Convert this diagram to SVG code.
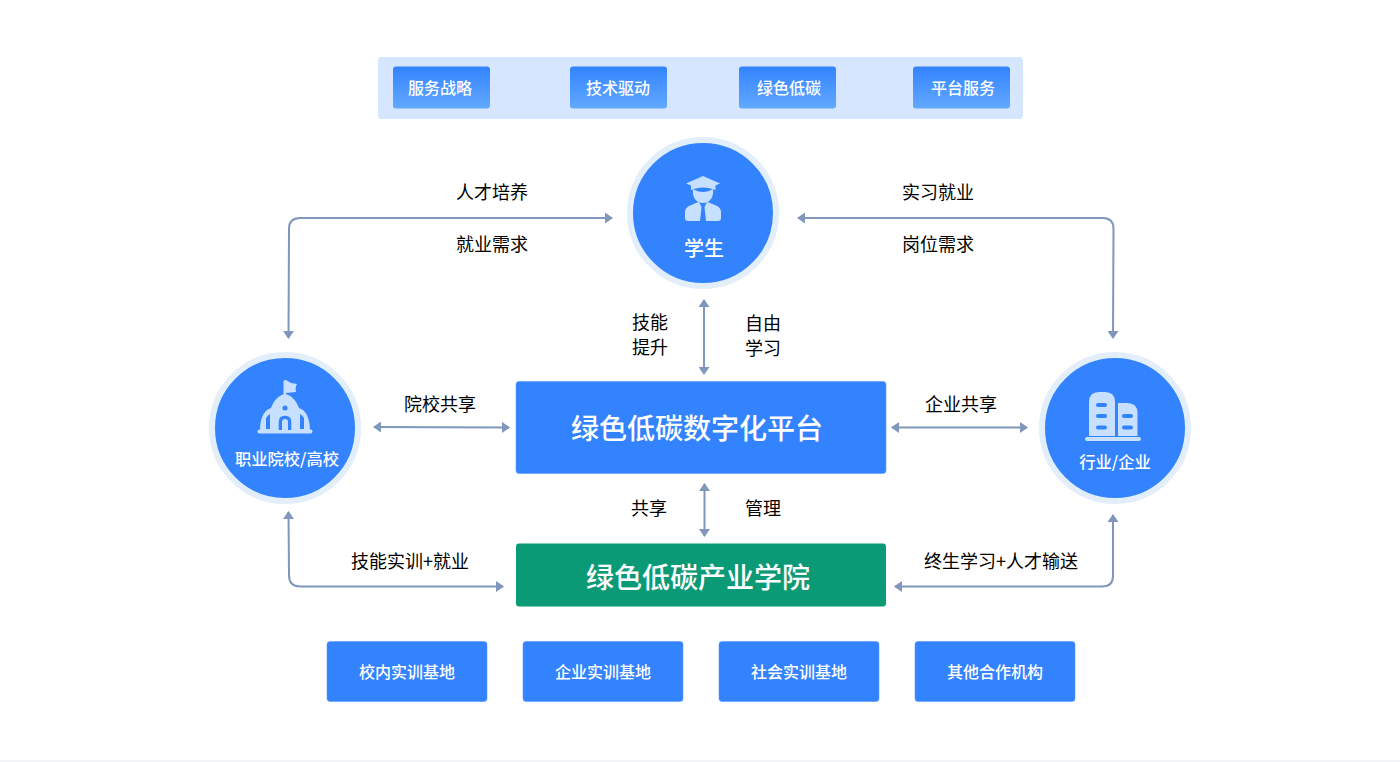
<svg xmlns="http://www.w3.org/2000/svg" width="1400" height="762" viewBox="0 0 1400 762">
<style>
text{font-family:"Noto Sans CJK SC","Noto Sans",sans-serif;text-anchor:middle}
.l{font-size:18px;fill:#000}
.t{font-size:16px;fill:#fff;font-weight:500}
.w{fill:#fff;font-weight:500}
.c{fill:none;stroke:#7f97bb;stroke-width:2;marker-start:url(#a);marker-end:url(#a)}
.ic{fill:#c8e0ff}
.h{fill:#3383ff}
.ring{fill:#3383ff;stroke:#e3eefb;stroke-width:6}
.box{fill:#3383ff;stroke:#5b9bff;stroke-width:.6}
</style>
<defs>
<linearGradient id="g" x1="0" y1="0" x2="0" y2="1"><stop offset="0" stop-color="#3383ff"/><stop offset="1" stop-color="#62a9ff"/></linearGradient>
<marker id="a" viewBox="0 0 8 11" refX="7" refY="5.500" markerWidth="4" markerHeight="5.500" markerUnits="strokeWidth" orient="auto-start-reverse"><path d="M0 0L8 5.500L0 11z" fill="#7f97bb"/></marker>
</defs>
<rect width="1400" height="762" fill="#fff"/>
<rect y="760" width="1400" height="2" fill="#f3f4f6"/>

<g id="band"><rect x="378" y="57" width="645" height="62" rx="3" fill="#d5e6fe"/></g>
<g id="tab1"><rect x="393" y="66.500" width="97" height="42" rx="3" fill="url(#g)"/><text class="t" x="440" y="94">服务战略</text></g>
<g id="tab2"><rect x="570" y="66.500" width="97" height="42" rx="3" fill="url(#g)"/><text class="t" x="618" y="94">技术驱动</text></g>
<g id="tab3"><rect x="739" y="66.500" width="97" height="42" rx="3" fill="url(#g)"/><text class="t" x="789" y="94">绿色低碳</text></g>
<g id="tab4"><rect x="913" y="66.500" width="97" height="42" rx="3" fill="url(#g)"/><text class="t" x="963" y="94">平台服务</text></g>

<g id="connectors">
<path class="c" d="M612 218H300Q289 218 289 229L288.500 338"/>
<path class="c" d="M798 218H1103Q1113.500 218 1113.500 229L1113 338"/>
<path class="c" d="M704 300V374"/>
<path class="c" d="M374 427L509 427.500"/>
<path class="c" d="M892 427.500H1027"/>
<path class="c" d="M704.500 484V536"/>
<path class="c" d="M288.500 512L289 575Q289 586.500 300 586.500H503"/>
<path class="c" d="M1113 515V576Q1113 586.500 1102 586.500H895"/>
</g>

<g id="student">
<circle class="ring" cx="703" cy="213" r="73"/>
<path class="ic" d="M703 176L720 183.500L715.500 185.500V190C708 186.500 698 186.500 691 190V185.500L686 183.500Z"/>
<path class="ic" d="M693 189C699 193 707 193 713 189C714 197 710 203 703 203C696 203 692 197 693 189Z"/>
<path class="ic" d="M685 212C685 207 690 205 699 202L701.500 207L700 221H688Q685 221 685 218Z"/>
<path class="ic" d="M721 212C721 207 716 205 707 202L704.500 207L706 221H718Q721 221 721 218Z"/>
<text class="w" x="704" y="255.500" font-size="20">学生</text>
</g>

<g id="school">
<circle class="ring" cx="285" cy="428" r="73"/>
<path class="ic" d="M283.500 381Q284 380 286 380L291 383L297 384Q295 387 296 392L286 393V397H283.500Z"/>
<path class="ic" d="M285 394C291 395 296 400 299 408C305 410 310 416 310 431H260C260 416 265 410 271 408C274 400 279 395 285 394Z"/>
<rect class="ic" x="257.500" y="429.500" width="55" height="4" rx="2"/>
<circle class="h" cx="285" cy="408" r="2.500"/>
<path class="h" d="M278.700 430V422Q278.700 415.700 285 415.700Q291.300 415.700 291.300 422V430H288V422Q288 419 285 419Q282 419 282 422V430Z"/>
<path class="h" d="M266 429V418Q267.500 415.500 270 414V429ZM300 414Q302.500 415.500 304 418V429H300Z"/>
<text class="w" x="287" y="465" font-size="16.300">职业院校/高校</text>
</g>

<g id="company">
<circle class="ring" cx="1115" cy="428" r="73"/>
<path class="ic" d="M1089 402Q1089 392 1099 392H1105Q1115 392 1115 402V436H1089Z"/>
<path class="ic" d="M1118 403H1127Q1137.500 403 1137.500 413V436H1118Z"/>
<rect class="ic" x="1085" y="437" width="56" height="4" rx="2"/>
<g class="h"><rect x="1096" y="403" width="11" height="4" rx="2"/><rect x="1096" y="414" width="11" height="4" rx="2"/><rect x="1096" y="425.500" width="11" height="4" rx="2"/><rect x="1122" y="414" width="11" height="4" rx="2"/><rect x="1122" y="425.500" width="11" height="4" rx="2"/></g>
<text class="w" x="1115" y="468" font-size="16.300">行业/企业</text>
</g>

<g id="platform"><rect class="box" x="516" y="381.500" width="370" height="92" rx="3"/><text class="w" x="697" y="439" font-size="28">绿色低碳数字化平台</text></g>
<g id="college"><rect x="516" y="543.500" width="370" height="63" rx="3" fill="#0a9a76"/><text class="w" x="698" y="588" font-size="28">绿色低碳产业学院</text></g>

<g id="base1"><rect class="box" x="327" y="641.500" width="160" height="60" rx="3"/><text class="t" x="407" y="678">校内实训基地</text></g>
<g id="base2"><rect class="box" x="523" y="641.500" width="160" height="60" rx="3"/><text class="t" x="603" y="678">企业实训基地</text></g>
<g id="base3"><rect class="box" x="719" y="641.500" width="160" height="60" rx="3"/><text class="t" x="799" y="678">社会实训基地</text></g>
<g id="base4"><rect class="box" x="915" y="641.500" width="160" height="60" rx="3"/><text class="t" x="995" y="678">其他合作机构</text></g>

<g id="labels">
<text class="l" x="492" y="199">人才培养</text>
<text class="l" x="492" y="251">就业需求</text>
<text class="l" x="938" y="199">实习就业</text>
<text class="l" x="938" y="251">岗位需求</text>
<text class="l" x="650" y="329">技能</text>
<text class="l" x="650" y="354">提升</text>
<text class="l" x="763" y="330">自由</text>
<text class="l" x="763" y="355">学习</text>
<text class="l" x="440" y="411">院校共享</text>
<text class="l" x="961" y="411">企业共享</text>
<text class="l" x="649" y="515">共享</text>
<text class="l" x="763" y="515">管理</text>
<text class="l" x="410" y="568">技能实训+就业</text>
<text class="l" x="1001" y="568">终生学习+人才输送</text>
</g>
</svg>
